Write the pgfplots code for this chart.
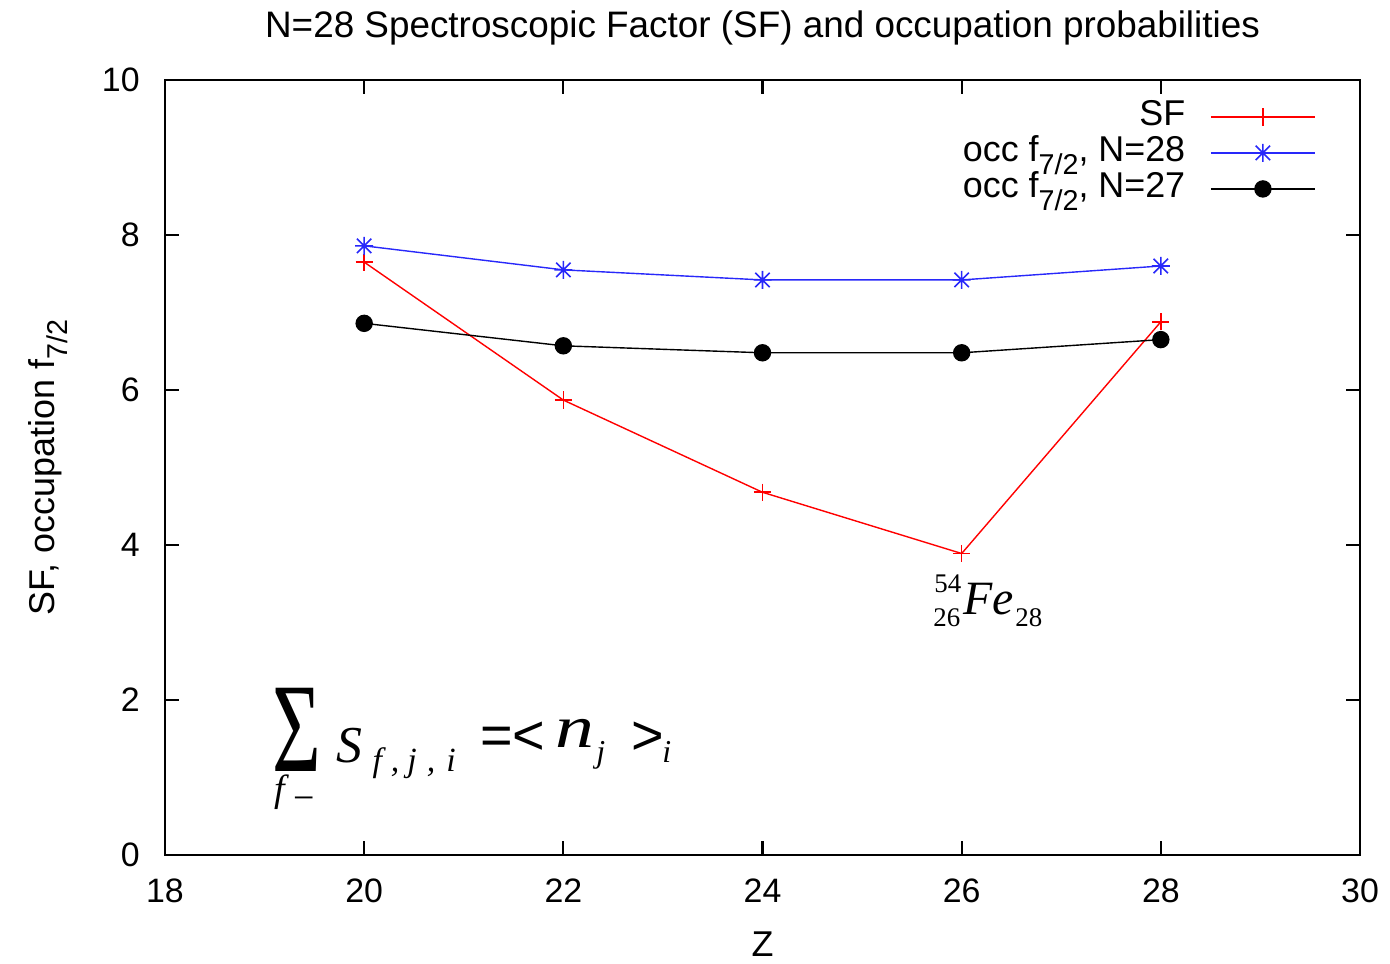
\documentclass[border=0pt]{standalone}
\usepackage{fontspec}
\setmainfont{Liberation Sans}
\newfontfamily\tms{Liberation Serif}
\usepackage{graphicx}
\usepackage{pgfplots}
\pgfplotsset{compat=1.18}

\definecolor{gpblue}{RGB}{40,40,250}

% gnuplot-style asterisk: a plus and a cross on top of each other
\pgfdeclareplotmark{gpstar}{%
  \pgfpathmoveto{\pgfqpoint{-\pgfplotmarksize}{0pt}}%
  \pgfpathlineto{\pgfqpoint{\pgfplotmarksize}{0pt}}%
  \pgfpathmoveto{\pgfqpoint{0pt}{-\pgfplotmarksize}}%
  \pgfpathlineto{\pgfqpoint{0pt}{\pgfplotmarksize}}%
  \pgfpathmoveto{\pgfqpoint{-0.8\pgfplotmarksize}{-0.8\pgfplotmarksize}}%
  \pgfpathlineto{\pgfqpoint{0.8\pgfplotmarksize}{0.8\pgfplotmarksize}}%
  \pgfpathmoveto{\pgfqpoint{-0.8\pgfplotmarksize}{0.8\pgfplotmarksize}}%
  \pgfpathlineto{\pgfqpoint{0.8\pgfplotmarksize}{-0.8\pgfplotmarksize}}%
  \pgfusepathqstroke}

\newcommand\fs[1]{\fontsize{#1}{#1}\selectfont}
\newcommand\lsub[1]{\raisebox{-0.34em}{\scalebox{0.8}{#1}}}

\begin{document}
\begin{tikzpicture}
\begin{axis}[
  scale only axis, width=597.5bp, height=387.5bp,
  xmin=18, xmax=30, ymin=0, ymax=10,
  xtick={18,20,...,30}, ytick={0,2,...,10},
  tick align=inside, major tick length=7bp,
  axis line style={line width=1.2bp},
  tick style={black, line width=1.1bp},
  /pgf/number format/assume math mode=true,
  tick label style={font=\fs{17}},
  xticklabel style={yshift=-6.5bp, inner sep=5pt},
  yticklabel style={xshift=-7.5bp, inner sep=5pt},
  xlabel={Z},
  ylabel={SF, occupation f\lsub{7/2}},
  label style={font=\fs{18}, inner sep=0pt},
  xlabel style={at={(axis description cs:0.5,-0.1316)}, anchor=base},
  ylabel style={at={(axis description cs:-0.0921,0.5)}, anchor=base, rotate=0},
  title={N=28 Spectroscopic Factor (SF) and occupation probabilities},
  title style={font=\fs{18.5}, inner sep=0pt, at={(axis description cs:0.5,1.0400)}, anchor=base},
  clip=false,
  legend plot pos=right,
  legend cell align=right,
  legend style={draw=none, fill=none, inner sep=0pt,
    at={(axis description cs:0.9632,0.9735)}, anchor=north east,
    font=\fs{18}, row sep=2bp, column sep=12.5bp,
    nodes={inner sep=0pt, text height=12.5bp, text depth=3.5bp}},
  legend image code/.code={%
    \draw[mark repeat=2,mark phase=2] plot coordinates {(0bp,0bp)(26bp,0bp)(52bp,0bp)};},
]
\addplot[red, line width=0.7bp, mark=+, mark size=4.3bp, mark options={line width=0.8bp}]
  coordinates {(20,7.65) (22,5.87) (24,4.68) (26,3.89) (28,6.88)};
\addlegendentry{SF}
\addplot[gpblue, line width=0.7bp, mark=gpstar, mark size=4.5bp, mark options={line width=0.8bp}]
  coordinates {(20,7.86) (22,7.55) (24,7.42) (26,7.42) (28,7.60)};
\addlegendentry{occ f\lsub{7/2}, N=28}
\addplot[black, line width=0.7bp, mark=*, mark size=4bp]
  coordinates {(20,6.86) (22,6.57) (24,6.48) (26,6.48) (28,6.65)};
\addlegendentry{occ f\lsub{7/2}, N=27}

% sum rule: summation sign with its lower limit, then the summand and the occupation
\node[inner sep=0pt, anchor=base west] at (axis cs:19.0745,1.071)
  {\tms\makebox[0pt][l]{\hspace{1bp}\raisebox{-15bp}{\fs{19}\textit{f}\hspace{2bp}\raisebox{-4.5bp}{−}}}%
   \fs{42}\scalebox{1}[1.52]{Σ}};
\node[inner sep=0pt, anchor=base west] at (axis cs:19.7172,1.1871) {\tms\fs{26}\textit{S}};
\node[inner sep=0pt, anchor=base west] at (axis cs:20.08,1.0710) {\tms\fs{17}\itshape f\hspace{4.5bp},\hspace{4bp}j\hspace{5bp},\hspace{5.5bp}i};
\node[inner sep=0pt, anchor=base west] at (axis cs:21.1632,1.2903) {\fs{28}=<};
\node[inner sep=0pt, anchor=base west] at (axis cs:21.9163,1.3806) {\tms\fs{30}\scalebox{1.3}[1]{\itshape n}};
\node[inner sep=0pt, anchor=base west] at (axis cs:22.328,1.187) {\tms\fs{16}\itshape j};
\node[inner sep=0pt, anchor=base west] at (axis cs:22.6795,1.2903) {\fs{28}>};
\node[inner sep=0pt, anchor=base west] at (axis cs:22.991,1.187) {\tms\fs{16}\itshape i};

% nuclide label
\node[inner sep=0pt, anchor=base west] at (axis cs:25.722,3.381) {\tms\fs{13.5}54};
\node[inner sep=0pt, anchor=base west] at (axis cs:25.712,2.942) {\tms\fs{13.5}26};
\node[inner sep=0pt, anchor=base west] at (axis cs:26.0134,3.0968) {\tms\fs{24}\itshape Fe};
\node[inner sep=0pt, anchor=base west] at (axis cs:26.5356,2.942) {\tms\fs{13.5}28};

% page extent around the axis box
\path (axis description cs:-0.13808,-0.14065) (axis description cs:1.0251,1.10323);
\end{axis}
\end{tikzpicture}
\end{document}
